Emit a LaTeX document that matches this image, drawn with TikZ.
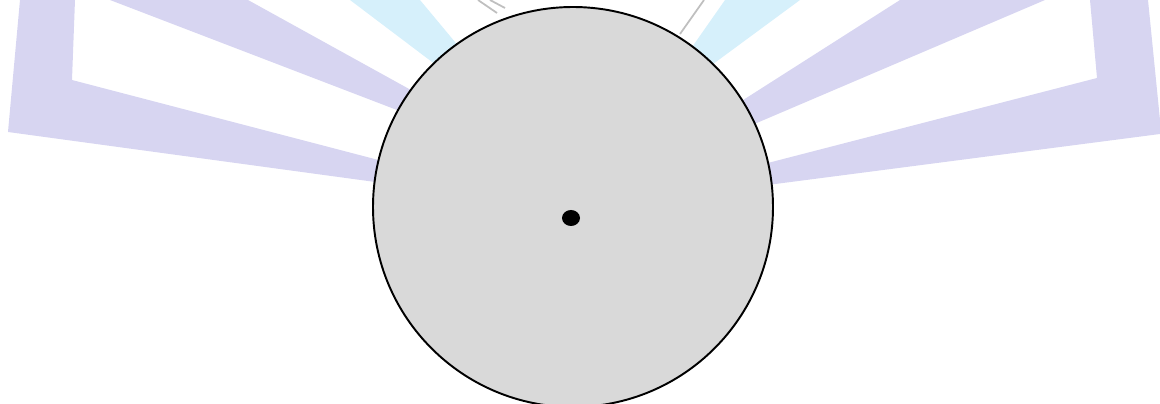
\documentclass[tikz,border=0pt]{standalone}
\usepackage{amsmath, amssymb}
\usepackage{tikz}
\usetikzlibrary{calc}
\usepackage{tkz-euclide}
\definecolor{beam}{RGB}{215,213,241}
\definecolor{ray}{RGB}{214,240,251}
\definecolor{disc}{RGB}{217,217,217}

\begin{document}
\begin{tikzpicture}
            \useasboundingbox (0,0) rectangle (23.2,8.08);
            % left corner
            \tkzDefPoint(0.40,8.08){A}
            \tkzDefPoint(1.50,8.08){B}
            \tkzDefPoint(1.44,6.48){C}
            \tkzDefPoint(7.80,4.82){D}
            \tkzDefPoint(7.80,4.40){E}
            \tkzDefPoint(0.16,5.44){F}
            % right corner
            \tkzDefPoint(21.80,8.08){A'}
            \tkzDefPoint(22.96,8.08){B'}
            \tkzDefPoint(23.20,5.68){C'}
            \tkzDefPoint(23.20,5.40){D'}
            \tkzDefPoint(15.20,4.36){E'}
            \tkzDefPoint(15.20,4.78){F'}
            \tkzDefPoint(21.94,6.52){G'}
            % slanted beams
            \tkzDefPoint(2.20,8.08){P}
            \tkzDefPoint(4.96,8.08){Q}
            \tkzDefPoint(8.40,6.18){R}
            \tkzDefPoint(8.20,5.78){S}
            \tkzDefPoint(18.00,8.08){P'}
            \tkzDefPoint(20.90,8.08){Q'}
            \tkzDefPoint(14.90,5.52){R'}
            \tkzDefPoint(14.80,6.04){S'}
            % light rays
            \tkzDefPoint(7.00,8.08){K}
            \tkzDefPoint(8.40,8.08){L}
            \tkzDefPoint(9.20,7.12){M}
            \tkzDefPoint(8.80,6.72){N}
            \tkzDefPoint(14.50,8.08){K'}
            \tkzDefPoint(16.00,8.08){L'}
            \tkzDefPoint(14.10,6.68){M'}
            \tkzDefPoint(13.80,7.08){N'}
            \tkzFillPolygon[color=beam](A,B,C,D,E,F)
            \tkzFillPolygon[color=beam](A',B',C',D',E',F',G')
            \tkzFillPolygon[color=beam](P,Q,R,S)
            \tkzFillPolygon[color=beam](P',Q',R',S')
            \tkzFillPolygon[color=ray](K,L,M,N)
            \tkzFillPolygon[color=ray](K',L',M',N')
            \draw[gray!50, line width=1pt] (9.56,8.08) -- (9.94,7.82);
            \draw[gray!50, line width=1pt] (9.80,8.08) -- (10.10,7.92);
            \draw[gray!50, line width=1pt] (14.08,8.08) -- (13.60,7.40);
            % disc and its centre
            \tkzDefPoint(11.46,3.94){O}
            \tkzDefPoint(15.46,3.94){T}
            \tkzDefPoint(11.42,3.72){Z}
            \tkzDrawCircle[black, line width=1.1pt, fill=disc](O,T)
            \fill[black] (Z) ellipse (0.18 and 0.16);
        \end{tikzpicture}
\end{document}
